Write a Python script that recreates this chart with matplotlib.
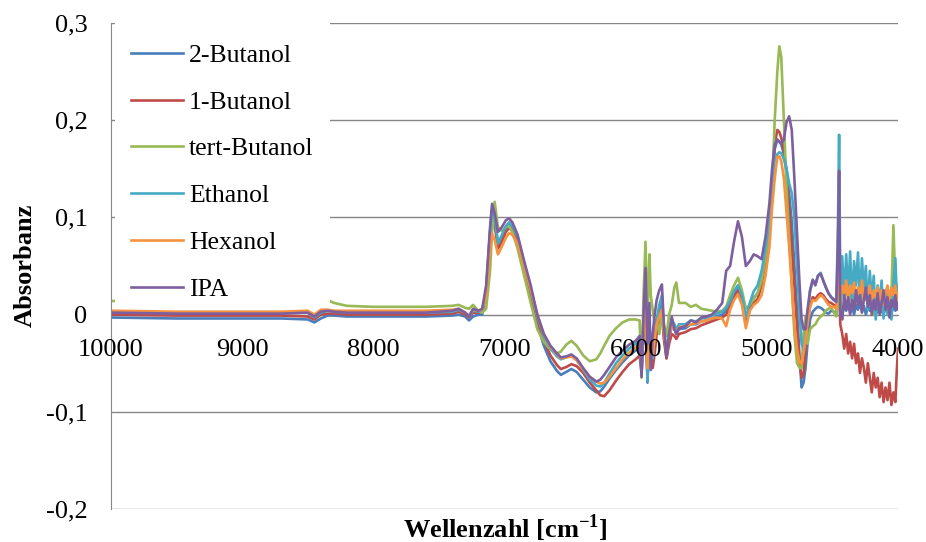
import matplotlib
matplotlib.use("Agg")
import matplotlib.pyplot as plt
from matplotlib.patches import Rectangle

plt.rcParams['font.family'] = ['Liberation Serif', 'DejaVu Serif']
plt.rcParams['mathtext.fontset'] = 'custom'
plt.rcParams['mathtext.rm'] = 'Liberation Serif'
plt.rcParams['mathtext.bf'] = 'Liberation Serif:bold'

# wavenumber grid in cm^-1 (denser where the spectra have structure)
wavenumber = [
    10000, 9500, 9000, 8700, 8500, 8450, 8400, 8350, 8300, 8200, 8000, 7600, 7400, 7350, 7300, 7270, 7240, 7200, 7170,
    7140, 7110, 7095, 7075, 7050, 7020, 6990, 6965, 6940, 6900, 6850, 6800, 6750, 6700, 6650, 6600, 6570, 6530, 6490,
    6450, 6400, 6350, 6300, 6270, 6240, 6200, 6150, 6100, 6050, 6000, 5970,
    5955, 5940, 5925, 5910, 5895, 5885, 5870, 5855, 5840, 5820, 5800, 5785, 5765, 5745, 5725, 5705, 5690, 5670,
    5620, 5580, 5540, 5500, 5460, 5420, 5380, 5340, 5310, 5280, 5250, 5220, 5190, 5160, 5130, 5100, 5070, 5040, 5010, 4980,
    4960, 4940, 4920, 4905, 4890, 4870, 4850, 4830, 4810, 4790, 4770, 4750, 4735, 4720, 4705, 4690, 4670, 4650, 4630,
    4610, 4590, 4570, 4550, 4530, 4510, 4490, 4470,
    4458, 4449, 4440, 4425, 4410, 4395, 4380, 4365, 4350, 4335, 4320, 4305, 4290, 4275, 4260, 4245, 4230, 4215, 4200,
    4185, 4170, 4155, 4140, 4125, 4110, 4095, 4080, 4065, 4050, 4035, 4020, 4010, 4000,
]

butanol_2 = [
    -0.003, -0.004, -0.004, -0.004, -0.005, -0.008, -0.004, -0.001, -0.001, -0.002, -0.002, -0.002, -0.001, 0.000, -0.002, -0.006, -0.002, 0.000, 0.000,
    0.025, 0.085, 0.108, 0.100, 0.073, 0.080, 0.089, 0.093, 0.089, 0.075, 0.045, 0.018, -0.010, -0.032, -0.048, -0.058, -0.062, -0.059, -0.056,
    -0.059, -0.067, -0.075, -0.080, -0.079, -0.074, -0.066, -0.057, -0.049, -0.042, -0.037, -0.033,
    -0.055, -0.015, 0.010, -0.070, -0.015, -0.035, -0.050, -0.030, -0.010, 0.000, 0.012, -0.020, -0.045, -0.025, -0.012, -0.015, -0.020, -0.015,
    -0.014, -0.010, -0.010, -0.007, -0.006, -0.004, -0.002, 0.000, 0.004, 0.012, 0.022, 0.030, 0.018, -0.004, 0.008, 0.017, 0.022, 0.035, 0.060, 0.085,
    0.130, 0.170, 0.180, 0.178, 0.175, 0.165, 0.150, 0.125, 0.095, 0.050, 0.005, -0.045, -0.075, -0.070, -0.055, -0.030, -0.005, 0.003, 0.006,
    0.008, 0.007, 0.005, 0.002, 0.001, 0.004, 0.003, 0.000,
    0.020, 0.030, 0.005, 0.000, 0.010, 0.004, 0.012, 0.002, 0.008, 0.000, 0.010, 0.005, 0.012, 0.003, 0.009, 0.000, 0.008, 0.004, 0.010,
    0.000, 0.007, 0.002, 0.009, 0.004, 0.000, 0.008, 0.003, 0.010, 0.002, 0.008, 0.004, 0.010, 0.006,
]

butanol_1 = [
    0.000, -0.001, -0.001, -0.001, -0.002, -0.005, 0.000, 0.001, 0.001, 0.000, 0.000, 0.000, 0.001, 0.003, 0.000, -0.003, 0.002, 0.002, 0.003,
    0.020, 0.075, 0.100, 0.092, 0.068, 0.075, 0.085, 0.089, 0.086, 0.074, 0.048, 0.022, -0.005, -0.027, -0.042, -0.052, -0.056, -0.054, -0.051,
    -0.053, -0.060, -0.070, -0.078, -0.083, -0.084, -0.078, -0.068, -0.059, -0.051, -0.046, -0.042,
    -0.060, -0.020, 0.000, -0.065, -0.030, -0.045, -0.055, -0.040, -0.020, -0.008, 0.000, -0.025, -0.045, -0.030, -0.020, -0.022, -0.025, -0.020,
    -0.018, -0.015, -0.014, -0.011, -0.009, -0.007, -0.005, -0.003, 0.000, 0.008, 0.018, 0.025, 0.014, -0.010, 0.005, 0.012, 0.016, 0.030, 0.055, 0.085,
    0.130, 0.175, 0.190, 0.188, 0.182, 0.170, 0.145, 0.110, 0.070, 0.030, -0.012, -0.050, -0.065, -0.060, -0.035, -0.010, 0.010, 0.018, 0.016,
    0.020, 0.022, 0.020, 0.016, 0.013, 0.012, 0.010, 0.008,
    0.020, 0.030, -0.010, -0.020, -0.035, -0.020, -0.040, -0.028, -0.045, -0.030, -0.050, -0.040, -0.060, -0.045, -0.055, -0.070, -0.050, -0.065, -0.080,
    -0.060, -0.075, -0.065, -0.085, -0.070, -0.090, -0.075, -0.088, -0.070, -0.093, -0.080, -0.090, -0.060, -0.035,
]

tert_butanol = [
    0.014, 0.014, 0.014, 0.014, 0.015, 0.015, 0.015, 0.015, 0.012, 0.009, 0.008, 0.008, 0.009, 0.010, 0.007, 0.006, 0.010, 0.004, 0.002,
    0.006, 0.045, 0.085, 0.116, 0.090, 0.086, 0.090, 0.091, 0.085, 0.068, 0.040, 0.012, -0.015, -0.028, -0.036, -0.040, -0.038, -0.031, -0.027,
    -0.032, -0.042, -0.048, -0.046, -0.040, -0.032, -0.022, -0.014, -0.008, -0.005, -0.005, -0.006,
    -0.065, 0.020, 0.075, -0.005, 0.062, 0.020, 0.005, -0.010, -0.005, -0.020, 0.005, -0.010, -0.022, 0.000, 0.010, 0.028, 0.033, 0.012,
    0.012, 0.008, 0.010, 0.006, 0.005, 0.004, 0.003, 0.004, 0.008, 0.020, 0.030, 0.038, 0.025, 0.006, 0.010, 0.016, 0.022, 0.035, 0.060, 0.085,
    0.130, 0.200, 0.250, 0.276, 0.265, 0.200, 0.130, 0.080, 0.030, -0.020, -0.050, -0.055, -0.055, -0.020, -0.002, -0.030, -0.015, -0.012, -0.010,
    -0.005, -0.002, 0.000, 0.004, 0.006, 0.007, 0.003, -0.002,
    0.010, 0.020, 0.005, 0.030, 0.045, 0.020, 0.035, 0.015, 0.030, 0.010, 0.025, 0.020, 0.030, 0.005, 0.025, 0.015, 0.030, 0.010, 0.020,
    0.000, 0.020, 0.010, 0.025, 0.005, 0.020, 0.012, 0.025, 0.010, 0.020, 0.092, 0.030, 0.020, 0.025,
]

ethanol = [
    0.003, 0.002, 0.002, 0.002, 0.002, -0.003, 0.002, 0.004, 0.003, 0.002, 0.002, 0.002, 0.003, 0.005, 0.002, -0.002, 0.004, 0.003, 0.005,
    0.025, 0.085, 0.106, 0.100, 0.073, 0.082, 0.091, 0.095, 0.092, 0.080, 0.053, 0.026, -0.002, -0.022, -0.035, -0.043, -0.046, -0.044, -0.042,
    -0.046, -0.057, -0.067, -0.073, -0.074, -0.070, -0.061, -0.050, -0.042, -0.035, -0.030, -0.026,
    -0.060, -0.010, 0.020, -0.068, -0.010, -0.030, -0.045, -0.020, -0.005, 0.010, 0.020, -0.015, -0.040, -0.018, -0.005, -0.010, -0.015, -0.010,
    -0.010, -0.006, -0.007, -0.004, -0.003, -0.001, 0.001, 0.003, 0.007, 0.014, 0.024, 0.030, 0.020, -0.003, 0.012, 0.024, 0.030, 0.045, 0.068, 0.095,
    0.130, 0.160, 0.165, 0.167, 0.166, 0.160, 0.150, 0.135, 0.125, 0.100, 0.050, 0.000, -0.030, -0.036, -0.020, 0.000, 0.025, 0.035, 0.032,
    0.040, 0.043, 0.035, 0.028, 0.022, 0.018, 0.016, 0.015,
    0.090, 0.185, 0.030, 0.060, 0.015, 0.062, 0.020, 0.065, 0.010, 0.055, 0.030, 0.064, 0.012, 0.058, 0.025, 0.050, 0.005, 0.045, 0.015,
    0.040, -0.005, 0.030, 0.010, 0.035, -0.004, 0.025, 0.000, 0.020, -0.005, 0.030, 0.058, 0.020, 0.030,
]

hexanol = [
    0.004, 0.003, 0.003, 0.003, 0.004, 0.000, 0.005, 0.005, 0.004, 0.004, 0.004, 0.004, 0.005, 0.006, 0.002, -0.001, 0.005, 0.004, 0.005,
    0.020, 0.065, 0.083, 0.077, 0.062, 0.070, 0.079, 0.084, 0.082, 0.073, 0.050, 0.026, 0.000, -0.020, -0.033, -0.041, -0.045, -0.044, -0.043,
    -0.047, -0.056, -0.064, -0.069, -0.071, -0.070, -0.064, -0.055, -0.046, -0.039, -0.034, -0.030,
    -0.050, -0.015, 0.005, -0.055, -0.020, -0.030, -0.040, -0.025, -0.010, -0.002, 0.005, -0.018, -0.038, -0.022, -0.012, -0.015, -0.018, -0.013,
    -0.012, -0.010, -0.009, -0.007, -0.006, -0.004, -0.003, -0.004, -0.012, 0.005, 0.015, 0.021, 0.010, -0.014, 0.004, 0.010, 0.013, 0.020, 0.040, 0.070,
    0.110, 0.140, 0.162, 0.163, 0.158, 0.140, 0.105, 0.070, 0.030, -0.010, -0.035, -0.050, -0.050, -0.040, -0.025, -0.010, 0.008, 0.015, 0.014,
    0.017, 0.020, 0.018, 0.014, 0.010, 0.008, 0.008, 0.006,
    0.030, 0.040, 0.020, 0.030, 0.020, 0.035, 0.015, 0.030, 0.022, 0.033, 0.012, 0.028, 0.020, 0.035, 0.015, 0.025, 0.020, 0.030, 0.012,
    0.025, 0.018, 0.028, 0.015, 0.025, 0.010, 0.022, 0.030, 0.015, 0.028, 0.020, 0.030, 0.015, 0.022,
]

ipa = [
    0.002, 0.001, 0.001, 0.001, 0.002, -0.002, 0.003, 0.004, 0.003, 0.002, 0.002, 0.002, 0.004, 0.006, 0.002, -0.002, 0.006, 0.004, 0.006,
    0.030, 0.090, 0.114, 0.104, 0.085, 0.090, 0.097, 0.099, 0.095, 0.082, 0.055, 0.030, 0.000, -0.020, -0.032, -0.040, -0.044, -0.043, -0.041,
    -0.045, -0.055, -0.064, -0.069, -0.067, -0.062, -0.054, -0.044, -0.037, -0.031, -0.027, -0.022,
    -0.064, 0.000, 0.048, -0.030, 0.012, -0.057, -0.020, 0.000, 0.015, 0.025, 0.031, -0.010, -0.043, -0.020, -0.002, -0.015, -0.020, -0.014,
    -0.012, -0.006, -0.008, -0.003, -0.002, 0.000, 0.005, 0.012, 0.045, 0.050, 0.075, 0.096, 0.080, 0.050, 0.055, 0.062, 0.060, 0.057, 0.080, 0.115,
    0.150, 0.175, 0.180, 0.178, 0.176, 0.180, 0.198, 0.204, 0.190, 0.140, 0.085, 0.030, -0.005, -0.015, -0.015, 0.005, 0.025, 0.036, 0.030,
    0.040, 0.042, 0.035, 0.028, 0.022, 0.018, 0.015, 0.013,
    0.070, 0.148, 0.000, -0.005, 0.020, 0.005, 0.018, 0.000, 0.015, 0.005, 0.025, 0.010, 0.020, 0.002, 0.015, 0.028, 0.008, 0.020, 0.000,
    0.015, 0.005, 0.022, 0.000, 0.012, 0.025, 0.005, 0.018, -0.003, 0.015, 0.008, 0.020, 0.005, 0.012,
]

series_names = ["2-Butanol", "1-Butanol", "tert-Butanol", "Ethanol", "Hexanol", "IPA"]
series_values = [butanol_2, butanol_1, tert_butanol, ethanol, hexanol, ipa]
series_colors = ["#4A7EBB", "#BE4B48", "#98B954", "#46AAC5", "#F69240", "#7D5FA0"]

y_ticks = [-0.2, -0.1, 0.0, 0.1, 0.2, 0.3]
y_tick_labels = ["-0,2", "-0,1", "0", "0,1", "0,2", "0,3"]
x_ticks = [10000, 9000, 8000, 7000, 6000, 5000, 4000]

grid_color = "#868686"

fig = plt.figure(figsize=(9.26, 5.42), dpi=100)
ax = fig.add_axes([111 / 926, 1 - 509 / 542, 787 / 926, 486 / 542])
ax.set_axisbelow(False)

for name, vals, col in zip(series_names, series_values, series_colors):
    ax.plot(wavenumber, vals, color=col, lw=1.9, label=name, zorder=2,
            solid_joinstyle='round')

# horizontal gridlines underneath the spectra
for yv in y_ticks:
    ax.axhline(yv, color=grid_color, lw=1.0, zorder=0.5)

ax.set_xlim(10000, 4000)
ax.set_ylim(-0.2, 0.3)
ax.set_yticks(y_ticks)
ax.set_yticklabels(y_tick_labels)
ax.set_xticks(x_ticks)
ax.set_xticklabels([str(v) for v in x_ticks])

ax.spines['top'].set_visible(False)
ax.spines['right'].set_visible(False)
ax.spines['left'].set_color(grid_color)
ax.spines['bottom'].set_color(grid_color)
ax.spines['bottom'].set_position(('data', 0))
ax.spines['bottom'].set_zorder(1)

ax.tick_params(axis='y', length=0, pad=17, labelsize=19)
ax.tick_params(axis='x', length=0, pad=17.5, labelsize=19)

# opaque white legend panel
ax.add_patch(Rectangle((0.005, 0.4218), 0.273, 0.58, transform=ax.transAxes,
                       facecolor='white', edgecolor='none', zorder=3))
leg = ax.legend(loc='upper left', bbox_to_anchor=(0.0197, 0.967), borderaxespad=0,
                fontsize=18.5, handlelength=2.0, handletextpad=0.25, labelspacing=0.93,
                borderpad=0.18, frameon=False)
leg.set_zorder(4)

fig.text(505 / 926, 1 - 528 / 542, r"Wellenzahl [cm$^{\mathbf{-1}}$]", fontsize=19,
         fontweight='bold', ha='center', va='center')
fig.text(25 / 926, 1 - 265 / 542, "Absorbanz", fontsize=19, fontweight='bold',
         rotation=90, ha='center', va='center')

fig.savefig("out.png", dpi=100)
